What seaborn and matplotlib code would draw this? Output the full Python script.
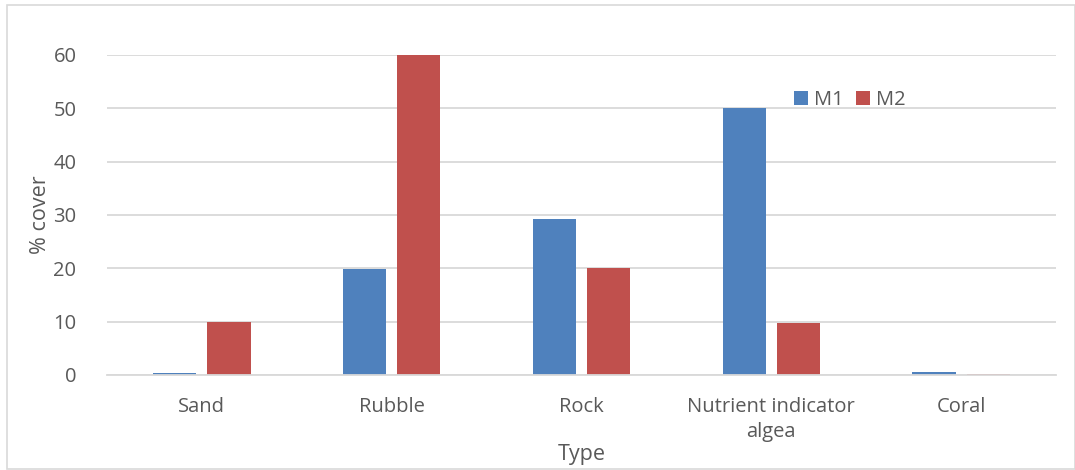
import matplotlib
matplotlib.use("Agg")
import matplotlib.pyplot as plt
from matplotlib.patches import Rectangle
import seaborn as sns
import pandas as pd

# Benthic cover by substrate type for two monitoring sites
categories = ["Sand", "Rubble", "Rock", "Nutrient indicator\nalgea", "Coral"]
m1_values = [0.3, 19.8, 29.3, 50.0, 0.5]
m2_values = [10.0, 60.0, 20.0, 9.8, 0.2]
series = ["M1", "M2"]
y_ticks = [0, 10, 20, 30, 40, 50, 60]

df = pd.DataFrame({
    "Type": categories * 2,
    "cover": m1_values + m2_values,
    "site": [series[0]] * len(categories) + [series[1]] * len(categories),
})

sns.set_theme(style="white")
plt.rcParams["font.family"] = ["Open Sans", "DejaVu Sans"]

text_color = "#595959"
grid_color = "#D9D9D9"

fig = plt.figure(figsize=(10.75, 4.7), dpi=100)
ax = fig.add_axes([107 / 1075, 1 - 375 / 470, (1056 - 107) / 1075, (375 - 55) / 470])

sns.barplot(
    data=df, x="Type", y="cover", hue="site", order=categories, hue_order=series,
    palette=["#4F81BD", "#C0504D"], width=0.57, gap=0.2, saturation=1,
    linewidth=0, ax=ax, zorder=3,
)

ax.set_ylim(0, 60)
ax.set_yticks(y_ticks)
ax.set_xlim(-0.5, len(categories) - 0.5)
ax.yaxis.grid(True, color=grid_color, linewidth=1.3, zorder=0)
ax.set_axisbelow(True)
for side in ["top", "right", "left"]:
    ax.spines[side].set_visible(False)
ax.spines["bottom"].set_color(grid_color)
ax.spines["bottom"].set_linewidth(1.3)
ax.spines["bottom"].set_zorder(4)

ax.tick_params(axis="both", length=0, labelsize=14.5, colors=text_color)
ax.tick_params(axis="y", pad=22)
ax.tick_params(axis="x", pad=16)
for lbl in ax.get_xticklabels():
    lbl.set_linespacing(1.35)

ax.set_xlabel("Type", fontsize=15.5, color=text_color, labelpad=1)
ax.set_ylabel("% cover", fontsize=15.5, color=text_color, labelpad=2)

leg = ax.legend(
    loc="center left", bbox_to_anchor=(0.705, 0.86), ncol=2, frameon=False,
    fontsize=14.5, handlelength=0.7, handleheight=0.7, handletextpad=0.3,
    columnspacing=0.6,
)
for t in leg.get_texts():
    t.set_color(text_color)

# Light frame around the whole chart
fig.patches.append(Rectangle((7 / 1075, 1 / 470), 1 - 7 / 1075, 464 / 470,
                             transform=fig.transFigure, fill=False,
                             edgecolor=grid_color, linewidth=1.2))

fig.savefig("out.png", dpi=100, facecolor="white")
